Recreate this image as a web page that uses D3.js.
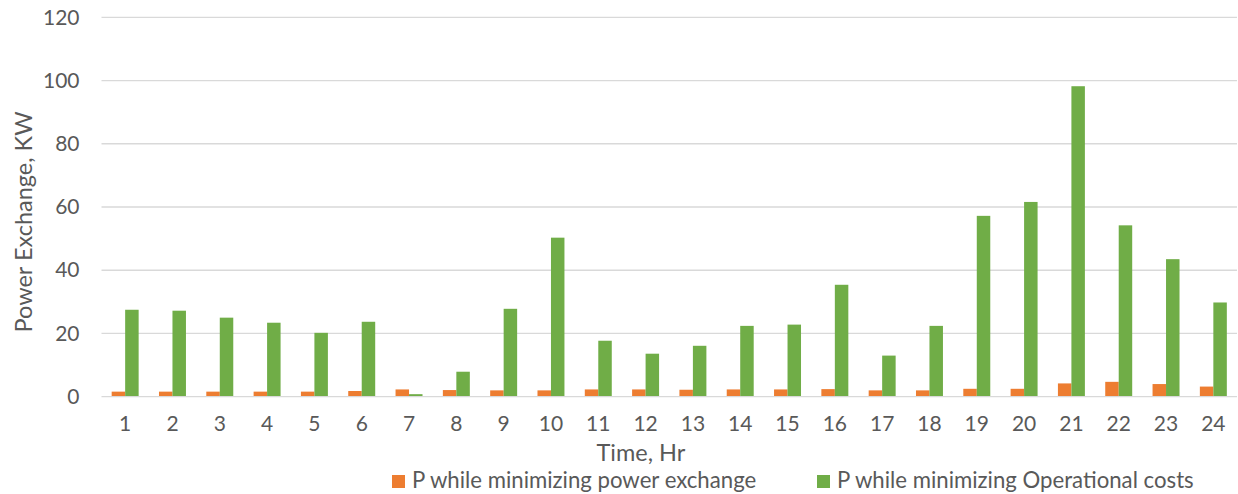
<!DOCTYPE html>
<html>
<head>
<meta charset="utf-8">
<script src="https://cdn.jsdelivr.net/npm/d3@7"></script>
<style>
  body { margin: 0; background: #fff; }
  text { font-family: Lato, "Open Sans", sans-serif; fill: #595959; }
</style>
</head>
<body>
<div id="container"></div>
<script>
const hours = d3.range(1, 25).map(String);
const pMinExchange = [1.6, 1.6, 1.6, 1.6, 1.6, 1.8, 2.3, 2.1, 2.0, 2.0, 2.3, 2.3,
  2.2, 2.3, 2.3, 2.4, 2.0, 2.0, 2.5, 2.5, 4.2, 4.7, 4.0, 3.2];
const pMinCosts = [27.5, 27.2, 25.0, 23.4, 20.2, 23.7, 0.8, 7.9, 27.8, 50.3, 17.7, 13.6,
  16.1, 22.4, 22.8, 35.4, 13.0, 22.4, 57.2, 61.6, 98.2, 54.2, 43.5, 29.8];
const yTicks = [0, 20, 40, 60, 80, 100, 120];
const seriesNames = ['P while minimizing power exchange', 'P while minimizing Operational costs'];
const colors = ['#ED7D31', '#70AD47'];

const WIDTH = 1238;
const HEIGHT = 494;
const PLOT_LEFT = 101.5, PLOT_RIGHT = 1237, PLOT_TOP = 17.3, PLOT_BOTTOM = 396.7;

const svg = d3.select('#container')
  .append('svg')
  .attr('width', WIDTH)
  .attr('height', HEIGHT);

const x = d3.scaleBand()
  .domain(hours)
  .range([PLOT_LEFT, PLOT_RIGHT])
  .paddingInner(0.43)
  .paddingOuter(0.215);

const xSub = d3.scaleBand()
  .domain([0, 1])
  .range([0, x.bandwidth()]);

const y = d3.scaleLinear()
  .domain([0, 120])
  .range([PLOT_BOTTOM, PLOT_TOP]);

// gridlines
svg.append('g')
  .selectAll('line')
  .data(yTicks.filter(d => d !== 0))
  .join('line')
  .attr('x1', PLOT_LEFT)
  .attr('x2', PLOT_RIGHT)
  .attr('y1', d => y(d))
  .attr('y2', d => y(d))
  .style('stroke', '#d9d9d9')
  .style('stroke-width', 1.3);

// bars
const series = [pMinExchange, pMinCosts];
series.forEach((values, i) => {
  svg.append('g')
    .selectAll('rect')
    .data(values)
    .join('rect')
    .attr('x', (d, j) => x(hours[j]) + xSub(i))
    .attr('y', d => y(d))
    .attr('width', xSub.bandwidth())
    .attr('height', d => y(0) - y(d))
    .style('fill', colors[i]);
});

// baseline
svg.append('line')
  .attr('x1', PLOT_LEFT)
  .attr('x2', PLOT_RIGHT)
  .attr('y1', y(0))
  .attr('y2', y(0))
  .style('stroke', '#d9d9d9')
  .style('stroke-width', 1.3);

// y axis labels
const yAxis = svg.append('g')
  .attr('transform', `translate(${PLOT_LEFT - 22},0)`)
  .call(d3.axisLeft(y).tickValues(yTicks).tickSize(0).tickPadding(0));
yAxis.select('.domain').remove();
yAxis.selectAll('text')
  .style('font-size', '21px')
  .style('fill', '#595959')
  .style('font-family', 'Lato, sans-serif');

// x axis labels
const xAxis = svg.append('g')
  .attr('transform', `translate(0,${PLOT_BOTTOM + 19})`)
  .call(d3.axisBottom(x).tickSize(0).tickPadding(0));
xAxis.select('.domain').remove();
xAxis.selectAll('text')
  .style('font-size', '21px')
  .style('fill', '#595959')
  .style('font-family', 'Lato, sans-serif');

// axis titles
svg.append('text')
  .attr('x', 641)
  .attr('y', 461)
  .attr('text-anchor', 'middle')
  .style('font-size', '23.5px')
  .text('Time, Hr');

svg.append('text')
  .attr('transform', 'translate(32,222) rotate(-90)')
  .attr('text-anchor', 'middle')
  .style('font-size', '23.5px')
  .text('Power Exchange, KW');

// legend
const legendX = [392, 817];
seriesNames.forEach((name, i) => {
  svg.append('rect')
    .attr('x', legendX[i])
    .attr('y', 475)
    .attr('width', 13)
    .attr('height', 13)
    .style('fill', colors[i]);
  svg.append('text')
    .attr('x', legendX[i] + 20)
    .attr('y', 488)
    .style('font-size', '22.2px')
    .text(name);
});
</script>
</body>
</html>
